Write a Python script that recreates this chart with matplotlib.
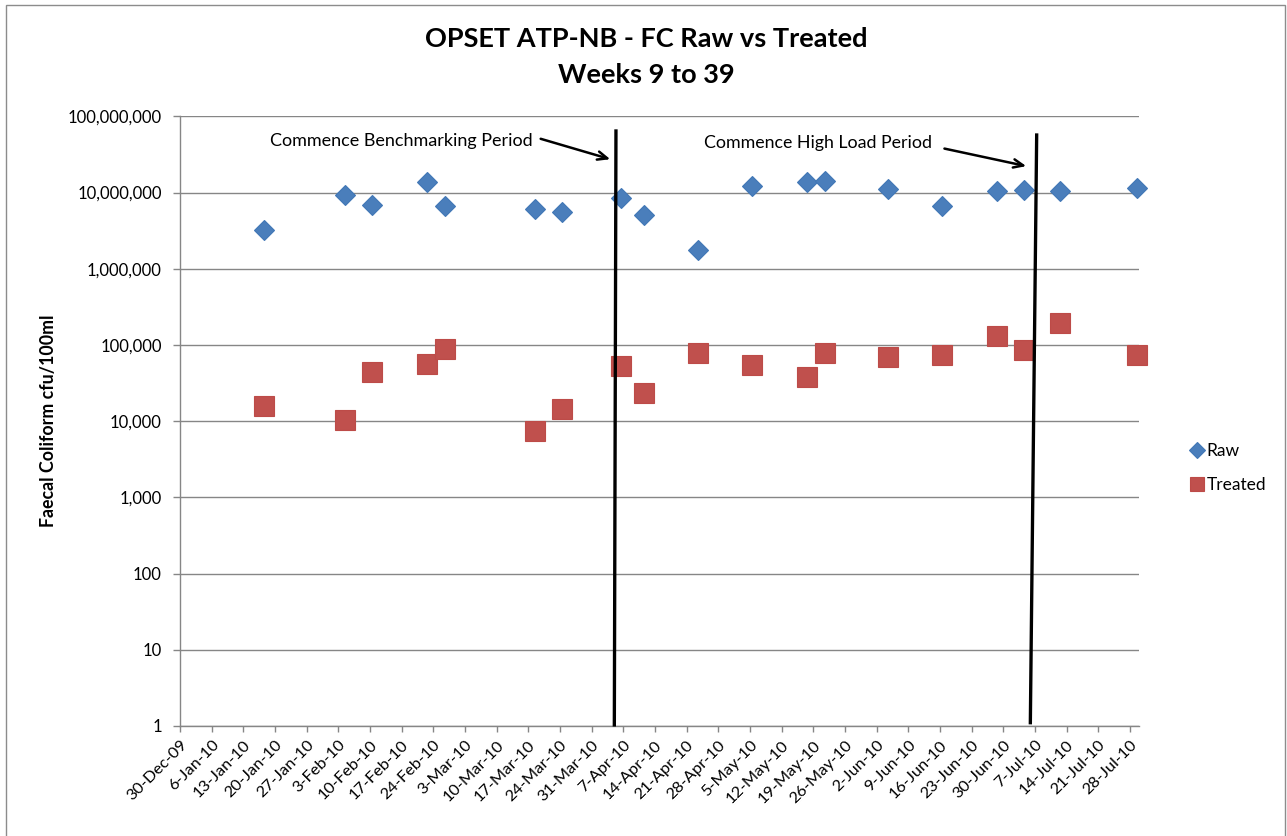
import matplotlib
matplotlib.use("Agg")
import matplotlib.pyplot as plt
import matplotlib.dates as mdates
from matplotlib.patches import Rectangle
from matplotlib.ticker import FixedLocator, FuncFormatter
import pandas as pd

plt.rcParams['font.family'] = ['Lato', 'DejaVu Sans']

# ---------------- data ----------------
sample_dates = ["2010-01-17", "2010-02-04", "2010-02-10", "2010-02-22", "2010-02-26",
                "2010-03-18", "2010-03-24", "2010-04-06", "2010-04-11", "2010-04-23",
                "2010-05-05", "2010-05-17", "2010-05-21", "2010-06-04", "2010-06-16",
                "2010-06-28", "2010-07-04", "2010-07-12", "2010-07-29"]
raw_values = [3.25e6, 9.3e6, 6.9e6, 1.37e7, 6.65e6,
              6.13e6, 5.54e6, 8.4e6, 5.1e6, 1.76e6,
              1.22e7, 1.37e7, 1.42e7, 1.11e7, 6.65e6,
              1.06e7, 1.07e7, 1.05e7, 1.13e7]
treated_values = [1.58e4, 1.03e4, 4.45e4, 5.56e4, 8.8e4,
                  7.5e3, 1.46e4, 5.33e4, 2.36e4, 7.9e4,
                  5.5e4, 3.83e4, 7.77e4, 6.88e4, 7.36e4,
                  1.31e5, 8.65e4, 1.95e5, 7.43e4]
series_names = ["Raw", "Treated"]
tick_labels = ["30-Dec-09", "6-Jan-10", "13-Jan-10", "20-Jan-10", "27-Jan-10",
               "3-Feb-10", "10-Feb-10", "17-Feb-10", "24-Feb-10", "3-Mar-10",
               "10-Mar-10", "17-Mar-10", "24-Mar-10", "31-Mar-10", "7-Apr-10",
               "14-Apr-10", "21-Apr-10", "28-Apr-10", "5-May-10", "12-May-10",
               "19-May-10", "26-May-10", "2-Jun-10", "9-Jun-10", "16-Jun-10",
               "23-Jun-10", "30-Jun-10", "7-Jul-10", "14-Jul-10", "21-Jul-10",
               "28-Jul-10"]
y_ticks = [1, 10, 100, 1e3, 1e4, 1e5, 1e6, 1e7, 1e8]
title_text = "OPSET ATP-NB - FC Raw vs Treated\nWeeks 9 to 39"
y_label = "Faecal Coliform cfu/100ml"
note_bench = "Commence Benchmarking Period"
note_load = "Commence High Load Period"

# ---------------- figure ----------------
W, H = 1287, 836
fig = plt.figure(figsize=(W / 100, H / 100), dpi=100)
fig.patch.set_facecolor("white")

# outer chart border
fig.add_artist(Rectangle((6 / W, -0.01), (1285 - 6) / W, 1.01 - 5 / H,
                         transform=fig.transFigure, fill=False,
                         edgecolor="#8C8C8C", linewidth=1.0))

ax = fig.add_axes([180 / W, 1 - 726 / H, (1139 - 180) / W, (726 - 116.3) / H])

# Excel date axis "between tick marks": each day occupies a slot, point sits mid-slot
x = pd.to_datetime(sample_dates) + pd.Timedelta(hours=12)
xd = mdates.date2num(x)

ax.plot(xd, raw_values, linestyle="none", marker="D", markersize=10.6,
        markerfacecolor="#4A7EBB", markeredgecolor="#4177B6", markeredgewidth=0.8,
        label=series_names[0], zorder=3, clip_on=False)
ax.plot(xd, treated_values, linestyle="none", marker="s", markersize=14,
        markerfacecolor="#C0504D", markeredgecolor="#BD4B48", markeredgewidth=0.8,
        label=series_names[1], zorder=3, clip_on=False)

ax.set_yscale("log")
ax.set_ylim(1, 1e8)
start = mdates.date2num(pd.Timestamp("2009-12-30"))
end = mdates.date2num(pd.Timestamp("2010-07-30"))
ax.set_xlim(start, end)

tick_pos = [start + 7 * i for i in range(len(tick_labels))]
ax.xaxis.set_major_locator(FixedLocator(tick_pos))
ax.set_xticklabels(tick_labels, rotation=45, ha="right", va="top",
                   rotation_mode="anchor", fontsize=11.8, color="#000000")
ax.xaxis.set_minor_locator(FixedLocator([]))

ax.yaxis.set_major_locator(FixedLocator(y_ticks))
ax.yaxis.set_minor_locator(FixedLocator([]))
ax.yaxis.set_major_formatter(FuncFormatter(lambda v, p: f"{int(round(v)):,}"))
ax.tick_params(axis="y", which="major", length=5, width=1, color="#868686",
               labelsize=12, pad=8)
ax.tick_params(axis="x", which="major", length=4.5, width=1, color="#868686",
               pad=4)

ax.grid(axis="y", color="#868686", linewidth=1.0)
ax.set_axisbelow(True)
for s in ["top", "right"]:
    ax.spines[s].set_visible(False)
for s in ["left", "bottom"]:
    ax.spines[s].set_color("#868686")
    ax.spines[s].set_linewidth(1.0)

ax.set_ylabel(y_label, fontsize=12.8, fontweight="bold")
ax.yaxis.set_label_coords(-0.128, 0.5)

fig.text(646 / W, 1 - 57 / H, title_text, ha="center", va="center",
         fontsize=19.5, fontweight="bold", linespacing=1.6)

# period markers (drawn shapes in axes fractions)
ax.plot([0.4546, 0.4529], [0.9759, 0.0018], transform=ax.transAxes,
        color="black", linewidth=2.4, zorder=4, clip_on=False)
ax.plot([0.8933, 0.8867], [0.9693, 0.0054], transform=ax.transAxes,
        color="black", linewidth=2.4, zorder=4, clip_on=False)

ax.annotate("", xy=(0.4515, 0.9283), xytext=(0.3733, 0.9644),
            xycoords="axes fraction", textcoords="axes fraction",
            arrowprops=dict(arrowstyle="->,head_length=0.7,head_width=0.3",
                            color="black", linewidth=1.8))
ax.annotate("", xy=(0.8853, 0.9173), xytext=(0.7943, 0.948),
            xycoords="axes fraction", textcoords="axes fraction",
            arrowprops=dict(arrowstyle="->,head_length=0.7,head_width=0.3",
                            color="black", linewidth=1.8))
ax.text(0.368, 0.960, note_bench, transform=ax.transAxes, ha="right",
        va="center", fontsize=13)
ax.text(0.7845, 0.9562, note_load, transform=ax.transAxes, ha="right",
        va="center", fontsize=12.8)

leg = fig.legend(loc="center left", bbox_to_anchor=(1177 / W, 1 - 468 / H),
                 frameon=False, fontsize=12.5, handletextpad=-0.1,
                 handlelength=1.3, labelspacing=1.0, borderpad=0,
                 markerscale=0.75)

fig.savefig("out.png", dpi=100, facecolor="white")
